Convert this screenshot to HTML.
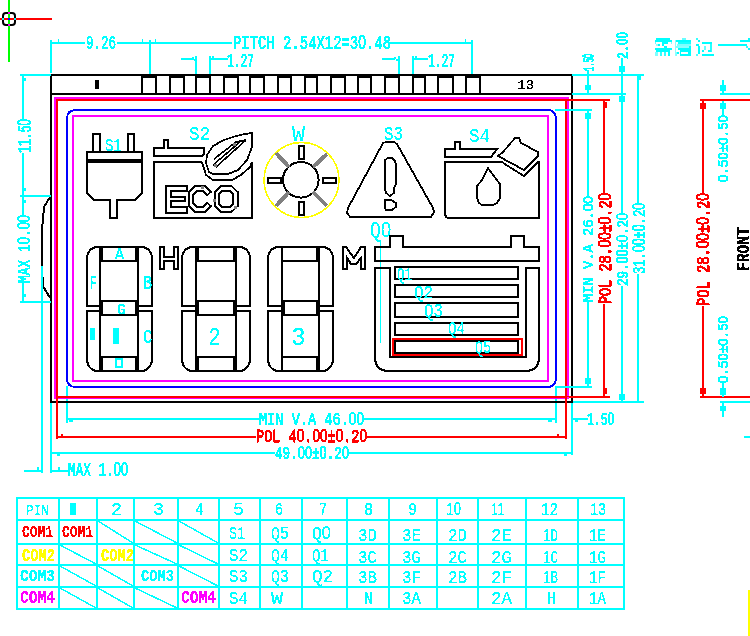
<!DOCTYPE html>
<html><head><meta charset="utf-8"><style>
html,body{margin:0;padding:0;background:#fff;width:750px;height:636px;overflow:hidden}
svg{display:block}
path,circle{shape-rendering:crispEdges}

</style></head><body>
<svg width="750" height="636" viewBox="0 0 750 636">
<defs><filter id="px" x="-800" y="-800" width="1600" height="1600" filterUnits="userSpaceOnUse"><feComponentTransfer><feFuncA type="discrete" tableValues="0 1"/></feComponentTransfer></filter></defs>
<rect width="750" height="636" fill="#fff"/>
<rect x="8" y="0" width="2" height="62" fill="#00ff00"/>
<rect x="0" y="18" width="52" height="2" fill="#ff0000"/>
<rect x="3" y="13" width="12" height="12" rx="3" fill="none" stroke="#000" stroke-width="2"/>
<rect x="8" y="12" width="2" height="2" fill="#ff00ff"/>
<rect x="8" y="24" width="2" height="2" fill="#ff00ff"/>
<rect x="2" y="18" width="2" height="2" fill="#00ffff"/>
<rect x="14" y="18" width="2" height="2" fill="#00ffff"/>
<rect x="8" y="18" width="2" height="2" fill="#0000ff"/>
<rect x="50" y="42" width="35" height="2" fill="#00ffff"/>
<rect x="117" y="42" width="33" height="2" fill="#00ffff"/>
<rect x="50" y="40" width="2" height="33" fill="#00ffff"/>
<rect x="149" y="40" width="2" height="35" fill="#00ffff"/>
<rect x="58" y="39" width="1" height="3" fill="#00ffff"/>
<rect x="142" y="39" width="1" height="3" fill="#00ffff"/>
<rect x="155" y="39" width="1" height="3" fill="#00ffff"/>
<text filter="url(#px)" x="86" y="49" font-family="Liberation Mono" font-weight="normal" font-size="19.74" fill="#00ffff" stroke="#00ffff" stroke-width="0.7" textLength="30" lengthAdjust="spacingAndGlyphs">9.26</text>
<rect x="150" y="42" width="82" height="2" fill="#00ffff"/>
<text filter="url(#px)" x="233" y="49" font-family="Liberation Mono" font-weight="normal" font-size="19.74" fill="#00ffff" stroke="#00ffff" stroke-width="0.7" textLength="158" lengthAdjust="spacingAndGlyphs">PITCH 2.54X12=3<tspan font-family="Liberation Sans">0</tspan>.48</text>
<rect x="390" y="42" width="82" height="2" fill="#00ffff"/>
<rect x="471" y="40" width="2" height="35" fill="#00ffff"/>
<rect x="465" y="39" width="1" height="3" fill="#00ffff"/>
<rect x="181" y="58" width="13" height="2" fill="#00ffff"/>
<rect x="192" y="57" width="2" height="2" fill="#00ffff"/>
<rect x="194" y="59" width="2" height="2" fill="#00ffff"/>
<rect x="195" y="56" width="2" height="19" fill="#00ffff"/>
<rect x="209" y="56" width="2" height="19" fill="#00ffff"/>
<rect x="211" y="58" width="17" height="2" fill="#00ffff"/>
<rect x="212" y="56" width="2" height="2" fill="#00ffff"/>
<rect x="214" y="58" width="2" height="2" fill="#00ffff"/>
<text filter="url(#px)" x="227" y="67" font-family="Liberation Mono" font-weight="normal" font-size="19.74" fill="#00ffff" stroke="#00ffff" stroke-width="0.7" textLength="27" lengthAdjust="spacingAndGlyphs">1.27</text>
<rect x="382" y="58" width="13" height="2" fill="#00ffff"/>
<rect x="394" y="57" width="2" height="2" fill="#00ffff"/>
<rect x="396" y="59" width="2" height="2" fill="#00ffff"/>
<rect x="398" y="56" width="2" height="19" fill="#00ffff"/>
<rect x="412" y="56" width="2" height="19" fill="#00ffff"/>
<rect x="414" y="58" width="14" height="2" fill="#00ffff"/>
<rect x="415" y="56" width="2" height="2" fill="#00ffff"/>
<rect x="417" y="58" width="2" height="2" fill="#00ffff"/>
<text filter="url(#px)" x="428" y="67" font-family="Liberation Mono" font-weight="normal" font-size="19.74" fill="#00ffff" stroke="#00ffff" stroke-width="0.7" textLength="27" lengthAdjust="spacingAndGlyphs">1.27</text>
<rect x="50" y="74" width="523" height="2" fill="#000000"/>
<rect x="50" y="74" width="2" height="329" fill="#000000"/>
<rect x="571" y="74" width="2" height="329" fill="#000000"/>
<rect x="50" y="401" width="523" height="2" fill="#000000"/>
<rect x="50" y="93" width="523" height="2" fill="#000000"/>
<rect x="141" y="74" width="2" height="21" fill="#000000"/>
<rect x="155" y="74" width="2" height="21" fill="#000000"/>
<rect x="169" y="74" width="2" height="21" fill="#000000"/>
<rect x="183" y="74" width="2" height="21" fill="#000000"/>
<rect x="195" y="74" width="2" height="21" fill="#000000"/>
<rect x="209" y="74" width="2" height="21" fill="#000000"/>
<rect x="223" y="74" width="2" height="21" fill="#000000"/>
<rect x="237" y="74" width="2" height="21" fill="#000000"/>
<rect x="249" y="74" width="2" height="21" fill="#000000"/>
<rect x="263" y="74" width="2" height="21" fill="#000000"/>
<rect x="277" y="74" width="2" height="21" fill="#000000"/>
<rect x="290" y="74" width="2" height="21" fill="#000000"/>
<rect x="304" y="74" width="2" height="21" fill="#000000"/>
<rect x="316" y="74" width="2" height="21" fill="#000000"/>
<rect x="330" y="74" width="2" height="21" fill="#000000"/>
<rect x="344" y="74" width="2" height="21" fill="#000000"/>
<rect x="357" y="74" width="2" height="21" fill="#000000"/>
<rect x="370" y="74" width="2" height="21" fill="#000000"/>
<rect x="384" y="74" width="2" height="21" fill="#000000"/>
<rect x="398" y="74" width="2" height="21" fill="#000000"/>
<rect x="412" y="74" width="2" height="21" fill="#000000"/>
<rect x="424" y="74" width="2" height="21" fill="#000000"/>
<rect x="437" y="74" width="2" height="21" fill="#000000"/>
<rect x="452" y="74" width="2" height="21" fill="#000000"/>
<rect x="465" y="74" width="2" height="21" fill="#000000"/>
<rect x="479" y="74" width="2" height="21" fill="#000000"/>
<rect x="142" y="76" width="13" height="2" fill="#000000"/>
<rect x="170" y="76" width="13" height="2" fill="#000000"/>
<rect x="196" y="76" width="13" height="2" fill="#000000"/>
<rect x="224" y="76" width="13" height="2" fill="#000000"/>
<rect x="250" y="76" width="13" height="2" fill="#000000"/>
<rect x="278" y="76" width="12" height="2" fill="#000000"/>
<rect x="305" y="76" width="11" height="2" fill="#000000"/>
<rect x="331" y="76" width="13" height="2" fill="#000000"/>
<rect x="358" y="76" width="12" height="2" fill="#000000"/>
<rect x="385" y="76" width="13" height="2" fill="#000000"/>
<rect x="413" y="76" width="11" height="2" fill="#000000"/>
<rect x="438" y="76" width="14" height="2" fill="#000000"/>
<rect x="466" y="76" width="13" height="2" fill="#000000"/>
<rect x="95" y="80" width="4" height="9" fill="#000000"/>
<text filter="url(#px)" x="517" y="89" font-family="Liberation Mono" font-weight="normal" font-size="13.66" fill="#000000" stroke="#000000" stroke-width="0.3" textLength="17" lengthAdjust="spacingAndGlyphs">13</text>
<rect x="54" y="97" width="515" height="2" fill="#ff00ff"/>
<rect x="54" y="397" width="515" height="2" fill="#ff00ff"/>
<rect x="54" y="97" width="2" height="302" fill="#ff00ff"/>
<rect x="567" y="97" width="2" height="302" fill="#ff00ff"/>
<rect x="56" y="99" width="511" height="2" fill="#ff0000"/>
<rect x="56" y="396" width="511" height="2" fill="#ff0000"/>
<rect x="56" y="99" width="2" height="299" fill="#ff0000"/>
<rect x="565" y="99" width="2" height="299" fill="#ff0000"/>
<path d="M76,110 H547 Q556,110 556,119 V377 Q556,387 547,387 H76 Q67,387 67,378 V119 Q67,110 76,110 Z" fill="none" stroke="#0000ff" stroke-width="2" transform="translate(0,0)"/>
<path d="M73,116 H548 V381 H73 Z" fill="none" stroke="#ff00ff" stroke-width="2" />
<rect x="572" y="74" width="72" height="2" fill="#00ffff"/>
<rect x="572" y="93" width="54" height="2" fill="#00ffff"/>
<rect x="555" y="109" width="37" height="2" fill="#00ffff"/>
<rect x="566" y="99" width="44" height="2" fill="#ff0000"/>
<rect x="587" y="70" width="2" height="25" fill="#00ffff"/>
<text filter="url(#px)" transform="translate(594,71) rotate(-90)" x="0" y="0" font-family="Liberation Mono" font-weight="bold" font-size="16.70" fill="#00ffff" stroke="#00ffff" stroke-width="0.4" textLength="17" lengthAdjust="spacingAndGlyphs">1.5<tspan font-family="Liberation Sans">0</tspan></text>
<rect x="585" y="85" width="6" height="5" fill="#00ffff"/>
<rect x="621" y="58" width="2" height="155" fill="#00ffff"/>
<text filter="url(#px)" transform="translate(628,59) rotate(-90)" x="0" y="0" font-family="Liberation Mono" font-weight="bold" font-size="16.70" fill="#00ffff" stroke="#00ffff" stroke-width="0.3" textLength="27" lengthAdjust="spacingAndGlyphs">2.<tspan font-family="Liberation Sans">00</tspan></text>
<rect x="619" y="66" width="6" height="6" fill="#00ffff"/>
<rect x="619" y="96" width="6" height="6" fill="#00ffff"/>
<rect x="637" y="75" width="2" height="128" fill="#00ffff"/>
<rect x="637" y="274" width="2" height="129" fill="#00ffff"/>
<rect x="639" y="76" width="2" height="4" fill="#00ffff"/>
<rect x="587" y="110" width="2" height="86" fill="#00ffff"/>
<rect x="587" y="302" width="2" height="86" fill="#00ffff"/>
<text filter="url(#px)" transform="translate(593,302) rotate(-90)" x="0" y="0" font-family="Liberation Mono" font-weight="normal" font-size="15.18" fill="#00ffff" stroke="#00ffff" stroke-width="0.7" textLength="106" lengthAdjust="spacingAndGlyphs">MIN V.A 26.<tspan font-family="Liberation Sans">00</tspan></text>
<rect x="585" y="113" width="6" height="6" fill="#00ffff"/>
<rect x="585" y="378" width="6" height="6" fill="#00ffff"/>
<rect x="603" y="100" width="2" height="93" fill="#ff0000"/>
<rect x="603" y="304" width="2" height="94" fill="#ff0000"/>
<text filter="url(#px)" transform="translate(611,304) rotate(-90)" x="0" y="0" font-family="Liberation Mono" font-weight="normal" font-size="18.22" fill="#ff0000" stroke="#ff0000" stroke-width="1.0" textLength="111" lengthAdjust="spacingAndGlyphs">POL 28.<tspan font-family="Liberation Sans">00</tspan>&#177;<tspan font-family="Liberation Sans">0</tspan>.2<tspan font-family="Liberation Sans">0</tspan></text>
<rect x="605" y="102" width="2" height="6" fill="#ff0000"/>
<rect x="605" y="388" width="2" height="6" fill="#ff0000"/>
<rect x="621" y="286" width="2" height="116" fill="#00ffff"/>
<text filter="url(#px)" transform="translate(628,286) rotate(-90)" x="0" y="0" font-family="Liberation Mono" font-weight="normal" font-size="16.70" fill="#00ffff" stroke="#00ffff" stroke-width="0.7" textLength="73" lengthAdjust="spacingAndGlyphs">29.<tspan font-family="Liberation Sans">00</tspan>&#177;<tspan font-family="Liberation Sans">0</tspan>.2<tspan font-family="Liberation Sans">0</tspan></text>
<text filter="url(#px)" transform="translate(645,274) rotate(-90)" x="0" y="0" font-family="Liberation Mono" font-weight="normal" font-size="18.22" fill="#00ffff" stroke="#00ffff" stroke-width="0.7" textLength="71" lengthAdjust="spacingAndGlyphs">31.<tspan font-family="Liberation Sans">00</tspan>&#177;<tspan font-family="Liberation Sans">0</tspan>.2<tspan font-family="Liberation Sans">0</tspan></text>
<rect x="619" y="394" width="6" height="6" fill="#00ffff"/>
<rect x="555" y="386" width="37" height="2" fill="#00ffff"/>
<rect x="566" y="396" width="44" height="2" fill="#ff0000"/>
<rect x="572" y="401" width="72" height="2" fill="#00ffff"/>
<rect x="20" y="74" width="31" height="2" fill="#00ffff"/>
<rect x="22" y="74" width="2" height="45" fill="#00ffff"/>
<rect x="22" y="153" width="2" height="62" fill="#00ffff"/>
<rect x="22" y="283" width="2" height="20" fill="#00ffff"/>
<rect x="20" y="195" width="31" height="2" fill="#00ffff"/>
<rect x="20" y="301" width="31" height="2" fill="#00ffff"/>
<rect x="24" y="78" width="2" height="3" fill="#00ffff"/>
<rect x="24" y="188" width="2" height="3" fill="#00ffff"/>
<rect x="24" y="200" width="2" height="3" fill="#00ffff"/>
<rect x="24" y="294" width="2" height="3" fill="#00ffff"/>
<text filter="url(#px)" transform="translate(31,153) rotate(-90)" x="0" y="0" font-family="Liberation Mono" font-weight="normal" font-size="19.74" fill="#00ffff" stroke="#00ffff" stroke-width="0.7" textLength="34" lengthAdjust="spacingAndGlyphs">11.5<tspan font-family="Liberation Sans">0</tspan></text>
<text filter="url(#px)" transform="translate(30,283) rotate(-90)" x="0" y="0" font-family="Liberation Mono" font-weight="normal" font-size="18.22" fill="#00ffff" stroke="#00ffff" stroke-width="0.7" textLength="68" lengthAdjust="spacingAndGlyphs">MAX 1<tspan font-family="Liberation Sans">0</tspan>.<tspan font-family="Liberation Sans">00</tspan></text>
<path d="M50,197 L44,207 L42,230 L42,266 L43,286 L50,298" fill="none" stroke="#000000" stroke-width="2" />
<rect x="41" y="266" width="2" height="207" fill="#00ffff"/>
<rect x="66" y="386" width="2" height="37" fill="#00ffff"/>
<rect x="66" y="418" width="193" height="2" fill="#00ffff"/>
<rect x="364" y="418" width="192" height="2" fill="#00ffff"/>
<rect x="555" y="386" width="2" height="37" fill="#00ffff"/>
<text filter="url(#px)" x="259" y="425" font-family="Liberation Mono" font-weight="normal" font-size="18.22" fill="#00ffff" stroke="#00ffff" stroke-width="0.7" textLength="105" lengthAdjust="spacingAndGlyphs">MIN V.A 46.<tspan font-family="Liberation Sans">00</tspan></text>
<rect x="56" y="397" width="2" height="42" fill="#ff0000"/>
<rect x="56" y="436" width="200" height="2" fill="#ff0000"/>
<rect x="367" y="436" width="200" height="2" fill="#ff0000"/>
<rect x="565" y="397" width="2" height="42" fill="#ff0000"/>
<text filter="url(#px)" x="256" y="442" font-family="Liberation Mono" font-weight="normal" font-size="18.22" fill="#ff0000" stroke="#ff0000" stroke-width="0.9" textLength="111" lengthAdjust="spacingAndGlyphs">POL 4<tspan font-family="Liberation Sans">0</tspan>.<tspan font-family="Liberation Sans">00</tspan>&#177;<tspan font-family="Liberation Sans">0</tspan>.2<tspan font-family="Liberation Sans">0</tspan></text>
<rect x="50" y="403" width="2" height="70" fill="#00ffff"/>
<rect x="50" y="452" width="225" height="2" fill="#00ffff"/>
<rect x="349" y="452" width="224" height="2" fill="#00ffff"/>
<rect x="571" y="403" width="2" height="52" fill="#00ffff"/>
<text filter="url(#px)" x="275" y="459" font-family="Liberation Mono" font-weight="normal" font-size="18.22" fill="#00ffff" stroke="#00ffff" stroke-width="0.7" textLength="74" lengthAdjust="spacingAndGlyphs">49.<tspan font-family="Liberation Sans">00</tspan>&#177;<tspan font-family="Liberation Sans">0</tspan>.2<tspan font-family="Liberation Sans">0</tspan></text>
<rect x="24" y="470" width="18" height="2" fill="#00ffff"/>
<rect x="51" y="470" width="18" height="2" fill="#00ffff"/>
<text filter="url(#px)" x="68" y="476" font-family="Liberation Mono" font-weight="normal" font-size="19.74" fill="#00ffff" stroke="#00ffff" stroke-width="0.7" textLength="60" lengthAdjust="spacingAndGlyphs">MAX 1.<tspan font-family="Liberation Sans">00</tspan></text>
<rect x="573" y="418" width="15" height="2" fill="#00ffff"/>
<text filter="url(#px)" x="587" y="425" font-family="Liberation Mono" font-weight="normal" font-size="18.22" fill="#00ffff" stroke="#00ffff" stroke-width="0.7" textLength="27" lengthAdjust="spacingAndGlyphs">1.5<tspan font-family="Liberation Sans">0</tspan></text>
<rect x="69" y="420" width="4" height="2" fill="#00ffff"/>
<rect x="548" y="420" width="4" height="2" fill="#00ffff"/>
<rect x="61" y="434" width="2" height="2" fill="#ff0000"/>
<rect x="557" y="434" width="2" height="2" fill="#ff0000"/>
<rect x="57" y="454" width="3" height="2" fill="#00ffff"/>
<rect x="564" y="454" width="3" height="2" fill="#00ffff"/>
<rect x="37" y="467" width="2" height="3" fill="#00ffff"/>
<rect x="58" y="467" width="2" height="3" fill="#00ffff"/>
<rect x="575" y="420" width="3" height="2" fill="#00ffff"/>
<rect x="54" y="397" width="515" height="2" fill="#ff00ff"/>
<rect x="56" y="396" width="511" height="2" fill="#ff0000"/>
<rect x="50" y="401" width="523" height="2" fill="#000000"/>
<rect x="56" y="397" width="2" height="42" fill="#ff0000"/>
<rect x="565" y="397" width="2" height="42" fill="#ff0000"/>
<rect x="720" y="93" width="31" height="2" fill="#00ffff"/>
<rect x="700" y="99" width="51" height="2" fill="#ff0000"/>
<rect x="702" y="306" width="2" height="92" fill="#ff0000"/>
<rect x="700" y="396" width="51" height="2" fill="#ff0000"/>
<rect x="720" y="401" width="31" height="2" fill="#00ffff"/>
<rect x="722" y="80" width="2" height="14" fill="#00ffff"/>
<rect x="722" y="101" width="2" height="14" fill="#00ffff"/>
<rect x="722" y="382" width="2" height="15" fill="#00ffff"/>
<rect x="722" y="402" width="2" height="15" fill="#00ffff"/>
<rect x="720" y="85" width="6" height="6" fill="#00ffff"/>
<rect x="720" y="103" width="6" height="6" fill="#00ffff"/>
<rect x="720" y="388" width="6" height="7" fill="#00ffff"/>
<rect x="720" y="406" width="6" height="5" fill="#00ffff"/>
<rect x="700" y="103" width="6" height="6" fill="#ff0000"/>
<rect x="700" y="388" width="6" height="6" fill="#ff0000"/>
<text filter="url(#px)" transform="translate(728,182) rotate(-90)" x="0" y="0" font-family="Liberation Mono" font-weight="normal" font-size="15.18" fill="#00ffff" stroke="#00ffff" stroke-width="0.7" textLength="67" lengthAdjust="spacingAndGlyphs"><tspan font-family="Liberation Sans">0</tspan>.5<tspan font-family="Liberation Sans">0</tspan>&#177;<tspan font-family="Liberation Sans">0</tspan>.5<tspan font-family="Liberation Sans">0</tspan></text>
<rect x="702" y="100" width="2" height="93" fill="#ff0000"/>
<text filter="url(#px)" transform="translate(709,306) rotate(-90)" x="0" y="0" font-family="Liberation Mono" font-weight="normal" font-size="18.22" fill="#ff0000" stroke="#ff0000" stroke-width="1.0" textLength="113" lengthAdjust="spacingAndGlyphs">POL 28.<tspan font-family="Liberation Sans">00</tspan>&#177;<tspan font-family="Liberation Sans">0</tspan>.2<tspan font-family="Liberation Sans">0</tspan></text>
<text filter="url(#px)" transform="translate(749,271) rotate(-90)" x="0" y="0" font-family="Liberation Mono" font-weight="bold" font-size="18.22" fill="#000000" stroke="#000000" stroke-width="0.3" textLength="44" lengthAdjust="spacingAndGlyphs">FRONT</text>
<text filter="url(#px)" transform="translate(728,383) rotate(-90)" x="0" y="0" font-family="Liberation Mono" font-weight="normal" font-size="15.18" fill="#00ffff" stroke="#00ffff" stroke-width="0.7" textLength="67" lengthAdjust="spacingAndGlyphs"><tspan font-family="Liberation Sans">0</tspan>.5<tspan font-family="Liberation Sans">0</tspan>&#177;<tspan font-family="Liberation Sans">0</tspan>.5<tspan font-family="Liberation Sans">0</tspan></text>
<rect x="744" y="436" width="7" height="2" fill="#00ffff"/>
<rect x="656" y="38" width="14" height="2" fill="#00ffff" fill-opacity="1.0"/>
<rect x="655" y="40" width="17" height="2" fill="#00ffff" fill-opacity="1.0"/>
<rect x="655" y="42" width="1" height="2" fill="#00ffff" fill-opacity="0.6"/>
<rect x="662" y="42" width="6" height="2" fill="#00ffff" fill-opacity="1.0"/>
<rect x="671" y="42" width="1" height="2" fill="#00ffff" fill-opacity="0.5"/>
<rect x="658" y="44" width="2" height="2" fill="#00ffff" fill-opacity="1.0"/>
<rect x="656" y="44" width="2" height="2" fill="#00ffff" fill-opacity="0.4"/>
<rect x="662" y="44" width="2" height="2" fill="#00ffff" fill-opacity="1.0"/>
<rect x="664" y="46" width="3" height="2" fill="#00ffff" fill-opacity="1.0"/>
<rect x="666" y="46" width="1" height="2" fill="#00ffff" fill-opacity="0.5"/>
<rect x="655" y="48" width="17" height="2" fill="#00ffff" fill-opacity="1.0"/>
<rect x="656" y="50" width="14" height="2" fill="#00ffff" fill-opacity="1.0"/>
<rect x="655" y="52" width="3" height="4" fill="#00ffff" fill-opacity="0.5"/>
<rect x="660" y="52" width="2" height="4" fill="#00ffff" fill-opacity="0.8"/>
<rect x="664" y="52" width="2" height="4" fill="#00ffff" fill-opacity="0.8"/>
<rect x="668" y="52" width="2" height="4" fill="#00ffff" fill-opacity="1.0"/>
<rect x="682" y="38" width="4" height="2" fill="#00ffff" fill-opacity="0.6"/>
<rect x="675" y="40" width="1" height="16" fill="#00ffff" fill-opacity="0.45"/>
<rect x="676" y="40" width="15" height="2" fill="#00ffff" fill-opacity="1.0"/>
<rect x="678" y="42" width="13" height="2" fill="#00ffff" fill-opacity="0.9"/>
<rect x="677" y="44" width="14" height="2" fill="#00ffff" fill-opacity="0.5"/>
<rect x="676" y="46" width="2" height="2" fill="#00ffff" fill-opacity="0.5"/>
<rect x="678" y="46" width="11" height="2" fill="#00ffff" fill-opacity="0.45"/>
<rect x="689" y="46" width="2" height="2" fill="#00ffff" fill-opacity="1.0"/>
<rect x="678" y="48" width="13" height="2" fill="#00ffff" fill-opacity="1.0"/>
<rect x="680" y="50" width="11" height="2" fill="#00ffff" fill-opacity="1.0"/>
<rect x="677" y="52" width="2" height="2" fill="#00ffff" fill-opacity="1.0"/>
<rect x="680" y="52" width="1" height="2" fill="#00ffff" fill-opacity="1.0"/>
<rect x="688" y="52" width="3" height="2" fill="#00ffff" fill-opacity="1.0"/>
<rect x="676" y="52" width="1" height="4" fill="#00ffff" fill-opacity="0.5"/>
<rect x="680" y="54" width="11" height="2" fill="#00ffff" fill-opacity="1.0"/>
<rect x="696" y="38" width="2" height="2" fill="#00ffff" fill-opacity="0.8"/>
<rect x="698" y="40" width="2" height="2" fill="#00ffff" fill-opacity="1.0"/>
<rect x="702" y="42" width="10" height="2" fill="#00ffff" fill-opacity="1.0"/>
<rect x="710" y="44" width="2" height="8" fill="#00ffff" fill-opacity="0.85"/>
<rect x="708" y="50" width="3" height="2" fill="#00ffff" fill-opacity="1.0"/>
<rect x="696" y="44" width="3" height="2" fill="#00ffff" fill-opacity="1.0"/>
<rect x="698" y="46" width="2" height="8" fill="#00ffff" fill-opacity="1.0"/>
<rect x="704" y="46" width="2" height="4" fill="#00ffff" fill-opacity="0.6"/>
<rect x="702" y="50" width="2" height="2" fill="#00ffff" fill-opacity="1.0"/>
<rect x="702" y="54" width="12" height="2" fill="#00ffff" fill-opacity="1.0"/>
<rect x="696" y="54" width="2" height="2" fill="#00ffff" fill-opacity="0.7"/>
<rect x="718" y="44" width="29" height="2" fill="#00ffff"/>
<rect x="740" y="40" width="10" height="2" fill="#00ffff" fill-opacity="1.0"/>
<rect x="748" y="38" width="2" height="2" fill="#00ffff" fill-opacity="1.0"/>
<rect x="746" y="46" width="2" height="2" fill="#00ffff" fill-opacity="0.8"/>
<rect x="748" y="48" width="2" height="2" fill="#00ffff" fill-opacity="1.0"/>
<rect x="748" y="590" width="2" height="47" fill="#ffff00"/>
<path d="M93,152 V134 H100 V152 M128,152 V134 H134 V152" fill="none" stroke="#000000" stroke-width="2" />
<path d="M87,152 H142 V193 L135,200 H117 V218 H110 V200 H94 L87,193 Z" fill="none" stroke="#000000" stroke-width="2" />
<rect x="86" y="159" width="56" height="4" fill="#000000"/>
<text filter="url(#px)" x="105" y="151" font-family="Liberation Mono" font-weight="normal" font-size="18.22" fill="#00ffff" stroke="#00ffff" stroke-width="0.2" textLength="17" lengthAdjust="spacingAndGlyphs">S1</text>
<path d="M154,156 V148 H164 V140 H168 V148 H204 V154 L202,156 Z" fill="none" stroke="#000000" stroke-width="2" />
<path d="M202,162 H154 V218 H252 V162" fill="none" stroke="#000000" stroke-width="2" />
<path d="M202,162 L206,175 L213,180 H232 L241,175 L250,167 L252,162" fill="none" stroke="#000000" stroke-width="1.8" />
<path d="M252,133 V147 L247,160 L238,170 L228,174 H213 L209,172 L206,163 L207,155 L213,146 L224,140 L236,136 L245,134 Z" fill="none" stroke="#000000" stroke-width="1.8" />
<path d="M213,165 L240,142 M216,167 L246,140 M214,159 L236,142 L246,140" fill="none" stroke="#000000" stroke-width="1.6" />
<rect x="214" y="164" width="3" height="3" fill="#808080"/>
<rect x="233" y="143" width="3" height="3" fill="#808080"/>
<path d="M166,186 H187 V191 H171 V197 H185 V201 H171 V207 H187 V213 H166 Z" fill="none" stroke="#000000" stroke-width="1.6" />
<path d="M195,186 H205 L211,192 L207,195 L203,191 H197 L193,195 V203 L197,207 H203 L207,203 L211,206 L205,212 H195 L189,206 V192 Z" fill="none" stroke="#000000" stroke-width="1.6" />
<path d="M221,186 H231 L238,192 V206 L231,212 H221 L215,206 V192 Z M222,191 H230 L233,194 V204 L230,207 H222 L219,204 V194 Z" fill="none" stroke="#000000" stroke-width="1.6" />
<rect x="201" y="186" width="3" height="3" fill="#808080"/>
<rect x="213" y="199" width="3" height="3" fill="#808080"/>
<rect x="234" y="206" width="3" height="3" fill="#808080"/>
<text filter="url(#px)" x="189" y="140" font-family="Liberation Mono" font-weight="normal" font-size="19.74" fill="#00ffff" stroke="#00ffff" stroke-width="0.2" textLength="21" lengthAdjust="spacingAndGlyphs">S2</text>
<circle cx="301.5" cy="180" r="37.5" fill="none" stroke="#ffff00" stroke-width="1.6"/>
<circle cx="300.8" cy="179.8" r="17.8" fill="none" stroke="#000" stroke-width="2"/>
<rect x="298" y="145" width="7" height="2" fill="#000000"/>
<rect x="298" y="158" width="7" height="2" fill="#000000"/>
<rect x="298" y="145" width="2" height="15" fill="#000000"/>
<rect x="303" y="145" width="2" height="15" fill="#000000"/>
<rect x="298" y="201" width="7" height="2" fill="#000000"/>
<rect x="298" y="214" width="7" height="2" fill="#000000"/>
<rect x="298" y="201" width="2" height="15" fill="#000000"/>
<rect x="303" y="201" width="2" height="15" fill="#000000"/>
<rect x="267" y="177" width="15" height="2" fill="#000000"/>
<rect x="267" y="182" width="15" height="2" fill="#000000"/>
<rect x="267" y="177" width="2" height="7" fill="#000000"/>
<rect x="280" y="177" width="2" height="7" fill="#000000"/>
<rect x="322" y="177" width="15" height="2" fill="#000000"/>
<rect x="322" y="182" width="15" height="2" fill="#000000"/>
<rect x="322" y="177" width="2" height="7" fill="#000000"/>
<rect x="335" y="177" width="2" height="7" fill="#000000"/>
<path d="M276,153 L289,167 M276,206 L289,192 M327,154 L313,167 M327,206 L313,192" fill="none" stroke="#808080" stroke-width="4" />
<text filter="url(#px)" x="292" y="141" font-family="Liberation Mono" font-weight="normal" font-size="21.25" fill="#00ffff" stroke="#00ffff" stroke-width="0.1" textLength="13" lengthAdjust="spacingAndGlyphs">W</text>
<path d="M383,143 L386,142 H394 L397,144 L433,208 L434,212 L431,217 H350 L347,213 L348,208 Z" fill="none" stroke="#000000" stroke-width="1.8" />
<path d="M385,160 L388,158 H392 L395,161 L396,165 V184 L394,188 V193 L390,196 L386,193 L385,189 Z" fill="none" stroke="#000000" stroke-width="1.8" />
<path d="M385,200 H391 L396,203 V207 L392,210 H386 L385,208 Z" fill="none" stroke="#000000" stroke-width="1.8" />
<text filter="url(#px)" x="384" y="140" font-family="Liberation Mono" font-weight="normal" font-size="19.74" fill="#00ffff" stroke="#00ffff" stroke-width="0.2" textLength="19" lengthAdjust="spacingAndGlyphs">S3</text>
<path d="M445,157 V149 H455 V142 H460 V149 H497 L491,157 Z" fill="none" stroke="#000000" stroke-width="2" />
<path d="M503,162 H445 V213 Q445,218 449,218 H539 V161" fill="none" stroke="#000000" stroke-width="2" />
<path d="M498,156 L503,152 L515,138 L519,138 L521,143 L538,152 L538,156 L524,170 Z" fill="none" stroke="#000000" stroke-width="1.8" />
<path d="M503,163 L524,176 L538,162" fill="none" stroke="#000000" stroke-width="1.8" />
<path d="M488,168 L482,180 L477,186 V198 L479,203 L482,205 H493 L497,203 L500,198 V184 Z" fill="none" stroke="#000000" stroke-width="1.8" />
<text filter="url(#px)" x="469" y="142" font-family="Liberation Mono" font-weight="normal" font-size="19.74" fill="#00ffff" stroke="#00ffff" stroke-width="0.2" textLength="21" lengthAdjust="spacingAndGlyphs">S4</text>
<path d="M97,247 H142" fill="none" stroke="#000000" stroke-width="2" />
<path d="M97,247 A10,11 0 0 0 87,258 V306 H100" fill="none" stroke="#000000" stroke-width="2" />
<path d="M142,247 A10,11 0 0 1 152,258 V306 H138" fill="none" stroke="#000000" stroke-width="2" />
<path d="M100,311 H87 V359 A10,12 0 0 0 97,371" fill="none" stroke="#000000" stroke-width="2" />
<path d="M138,311 H152 V359 A10,12 0 0 1 142,371" fill="none" stroke="#000000" stroke-width="2" />
<path d="M97,371 H142" fill="none" stroke="#000000" stroke-width="2" />
<rect x="99" y="246" width="2" height="126" fill="#000000"/>
<rect x="137" y="246" width="2" height="126" fill="#000000"/>
<rect x="99" y="260" width="40" height="2" fill="#000000"/>
<rect x="99" y="246" width="4" height="15" fill="#000000"/>
<rect x="99" y="356" width="4" height="16" fill="#000000"/>
<rect x="99" y="300" width="4" height="16" fill="#000000"/>
<rect x="135" y="246" width="4" height="15" fill="#000000"/>
<rect x="135" y="356" width="4" height="16" fill="#000000"/>
<rect x="135" y="300" width="4" height="16" fill="#000000"/>
<rect x="101" y="300" width="36" height="2" fill="#000000"/>
<rect x="101" y="314" width="36" height="2" fill="#000000"/>
<rect x="101" y="300" width="2" height="16" fill="#000000"/>
<rect x="135" y="300" width="2" height="16" fill="#000000"/>
<rect x="99" y="356" width="40" height="2" fill="#000000"/>
<path d="M192,247 H240" fill="none" stroke="#000000" stroke-width="2" />
<path d="M192,247 A10,11 0 0 0 182,258 V306 H196" fill="none" stroke="#000000" stroke-width="2" />
<path d="M240,247 A10,11 0 0 1 250,258 V306 H236" fill="none" stroke="#000000" stroke-width="2" />
<path d="M196,311 H182 V359 A10,12 0 0 0 192,371" fill="none" stroke="#000000" stroke-width="2" />
<path d="M236,311 H250 V359 A10,12 0 0 1 240,371" fill="none" stroke="#000000" stroke-width="2" />
<path d="M192,371 H240" fill="none" stroke="#000000" stroke-width="2" />
<rect x="195" y="246" width="2" height="126" fill="#000000"/>
<rect x="235" y="246" width="2" height="126" fill="#000000"/>
<rect x="195" y="260" width="42" height="2" fill="#000000"/>
<rect x="195" y="246" width="4" height="15" fill="#000000"/>
<rect x="195" y="356" width="4" height="16" fill="#000000"/>
<rect x="195" y="300" width="4" height="16" fill="#000000"/>
<rect x="233" y="246" width="4" height="15" fill="#000000"/>
<rect x="233" y="356" width="4" height="16" fill="#000000"/>
<rect x="233" y="300" width="4" height="16" fill="#000000"/>
<rect x="197" y="300" width="38" height="2" fill="#000000"/>
<rect x="197" y="314" width="38" height="2" fill="#000000"/>
<rect x="197" y="300" width="2" height="16" fill="#000000"/>
<rect x="233" y="300" width="2" height="16" fill="#000000"/>
<rect x="195" y="356" width="42" height="2" fill="#000000"/>
<path d="M278,247 H323" fill="none" stroke="#000000" stroke-width="2" />
<path d="M278,247 A10,11 0 0 0 268,258 V306 H282" fill="none" stroke="#000000" stroke-width="2" />
<path d="M323,247 A10,11 0 0 1 333,258 V306 H319" fill="none" stroke="#000000" stroke-width="2" />
<path d="M282,311 H268 V359 A10,12 0 0 0 278,371" fill="none" stroke="#000000" stroke-width="2" />
<path d="M319,311 H333 V359 A10,12 0 0 1 323,371" fill="none" stroke="#000000" stroke-width="2" />
<path d="M278,371 H323" fill="none" stroke="#000000" stroke-width="2" />
<rect x="281" y="246" width="2" height="126" fill="#000000"/>
<rect x="318" y="246" width="2" height="126" fill="#000000"/>
<rect x="281" y="260" width="39" height="2" fill="#000000"/>
<rect x="316" y="246" width="4" height="15" fill="#000000"/>
<rect x="316" y="356" width="4" height="16" fill="#000000"/>
<rect x="316" y="300" width="4" height="16" fill="#000000"/>
<rect x="283" y="300" width="35" height="2" fill="#000000"/>
<rect x="283" y="314" width="35" height="2" fill="#000000"/>
<rect x="283" y="300" width="2" height="16" fill="#000000"/>
<rect x="316" y="300" width="2" height="16" fill="#000000"/>
<rect x="281" y="356" width="39" height="2" fill="#000000"/>
<text filter="url(#px)" x="115" y="259" font-family="Liberation Mono" font-weight="normal" font-size="16.70" fill="#00ffff" stroke="#00ffff" stroke-width="0.4" textLength="9" lengthAdjust="spacingAndGlyphs">A</text>
<text filter="url(#px)" x="90" y="289" font-family="Liberation Mono" font-weight="normal" font-size="19.74" fill="#00ffff" stroke="#00ffff" stroke-width="0.4" textLength="7" lengthAdjust="spacingAndGlyphs">F</text>
<text filter="url(#px)" x="143" y="289" font-family="Liberation Mono" font-weight="normal" font-size="19.74" fill="#00ffff" stroke="#00ffff" stroke-width="0.4" textLength="9" lengthAdjust="spacingAndGlyphs">B</text>
<text filter="url(#px)" x="117" y="314" font-family="Liberation Mono" font-weight="normal" font-size="15.18" fill="#00ffff" stroke="#00ffff" stroke-width="0.4" textLength="9" lengthAdjust="spacingAndGlyphs">G</text>
<text filter="url(#px)" x="143" y="343" font-family="Liberation Mono" font-weight="normal" font-size="19.74" fill="#00ffff" stroke="#00ffff" stroke-width="0.4" textLength="9" lengthAdjust="spacingAndGlyphs">C</text>
<rect x="90" y="328" width="5" height="12" fill="#00ffff"/>
<rect x="113" y="328" width="6" height="16" fill="#00ffff"/>
<rect x="115" y="358" width="8" height="2" fill="#00ffff"/>
<rect x="115" y="366" width="8" height="2" fill="#00ffff"/>
<rect x="115" y="358" width="2" height="10" fill="#00ffff"/>
<rect x="121" y="358" width="2" height="10" fill="#00ffff"/>
<text filter="url(#px)" x="209" y="345" font-family="Liberation Sans" font-weight="normal" font-size="24.71" fill="#00ffff" stroke="#00ffff" stroke-width="0.2" textLength="11" lengthAdjust="spacingAndGlyphs">2</text>
<text filter="url(#px)" x="292" y="345" font-family="Liberation Sans" font-weight="normal" font-size="24.71" fill="#00ffff" stroke="#00ffff" stroke-width="0.2" textLength="13" lengthAdjust="spacingAndGlyphs">3</text>
<path d="M160,247 H164 V257 H174 V247 H178 V269 H174 V261 H164 V269 H160 Z" fill="none" stroke="#000000" stroke-width="2" />
<path d="M343,247 H346 L354,258 L361,247 H365 V269 H361 V258 L356,264 H351 L347,258 V269 H343 Z" fill="none" stroke="#000000" stroke-width="2" />
<text filter="url(#px)" x="370" y="237" font-family="Liberation Mono" font-weight="normal" font-size="21.25" fill="#00ffff" stroke="#00ffff" stroke-width="0.2" textLength="21" lengthAdjust="spacingAndGlyphs">Q<tspan font-family="Liberation Sans">0</tspan></text>
<rect x="380" y="240" width="1" height="103" fill="#00ffff"/>
<path d="M375,261 V247 H390 V236 H403 V247 H511 V236 H524 V247 H539 V261 Z" fill="none" stroke="#000000" stroke-width="2" />
<path d="M375,268 V357 Q375,371 389,371 H525 Q539,371 539,357 V268 H526 V357 H390 V268 Z" fill="none" stroke="#000000" stroke-width="2" />
<rect x="394" y="266" width="125" height="2" fill="#000000"/>
<rect x="394" y="278" width="125" height="2" fill="#000000"/>
<rect x="394" y="266" width="2" height="14" fill="#000000"/>
<rect x="517" y="266" width="2" height="14" fill="#000000"/>
<rect x="394" y="284" width="125" height="2" fill="#000000"/>
<rect x="394" y="296" width="125" height="2" fill="#000000"/>
<rect x="394" y="284" width="2" height="14" fill="#000000"/>
<rect x="517" y="284" width="2" height="14" fill="#000000"/>
<rect x="394" y="302" width="125" height="2" fill="#000000"/>
<rect x="394" y="316" width="125" height="2" fill="#000000"/>
<rect x="394" y="302" width="2" height="16" fill="#000000"/>
<rect x="517" y="302" width="2" height="16" fill="#000000"/>
<rect x="394" y="322" width="125" height="2" fill="#000000"/>
<rect x="394" y="334" width="125" height="2" fill="#000000"/>
<rect x="394" y="322" width="2" height="14" fill="#000000"/>
<rect x="517" y="322" width="2" height="14" fill="#000000"/>
<rect x="394" y="340" width="125" height="2" fill="#000000"/>
<rect x="394" y="352" width="125" height="2" fill="#000000"/>
<rect x="394" y="340" width="2" height="14" fill="#000000"/>
<rect x="517" y="340" width="2" height="14" fill="#000000"/>
<rect x="392" y="338" width="131" height="2" fill="#ff0000"/>
<rect x="392" y="354" width="131" height="2" fill="#ff0000"/>
<rect x="392" y="338" width="2" height="18" fill="#ff0000"/>
<rect x="521" y="338" width="2" height="18" fill="#ff0000"/>
<rect x="394" y="340" width="125" height="2" fill="#000000"/>
<rect x="394" y="352" width="125" height="2" fill="#000000"/>
<rect x="394" y="340" width="2" height="14" fill="#000000"/>
<rect x="517" y="340" width="2" height="14" fill="#000000"/>
<text filter="url(#px)" x="397" y="280" font-family="Liberation Mono" font-weight="normal" font-size="18.22" fill="#00ffff" stroke="#00ffff" stroke-width="0.2" textLength="15" lengthAdjust="spacingAndGlyphs">Q1</text>
<text filter="url(#px)" x="414" y="298" font-family="Liberation Mono" font-weight="normal" font-size="18.22" fill="#00ffff" stroke="#00ffff" stroke-width="0.2" textLength="19" lengthAdjust="spacingAndGlyphs">Q2</text>
<text filter="url(#px)" x="424" y="317" font-family="Liberation Mono" font-weight="normal" font-size="19.74" fill="#00ffff" stroke="#00ffff" stroke-width="0.2" textLength="19" lengthAdjust="spacingAndGlyphs">Q3</text>
<text filter="url(#px)" x="448" y="334" font-family="Liberation Mono" font-weight="normal" font-size="18.22" fill="#00ffff" stroke="#00ffff" stroke-width="0.2" textLength="17" lengthAdjust="spacingAndGlyphs">Q4</text>
<text filter="url(#px)" x="475" y="353" font-family="Liberation Mono" font-weight="normal" font-size="18.22" fill="#00ffff" stroke="#00ffff" stroke-width="0.2" textLength="16" lengthAdjust="spacingAndGlyphs">Q5</text>
<rect x="16" y="497" width="2" height="113" fill="#00ffff"/>
<rect x="58" y="497" width="2" height="113" fill="#00ffff"/>
<rect x="96" y="497" width="2" height="113" fill="#00ffff"/>
<rect x="133" y="497" width="2" height="113" fill="#00ffff"/>
<rect x="177" y="497" width="2" height="113" fill="#00ffff"/>
<rect x="218" y="497" width="2" height="113" fill="#00ffff"/>
<rect x="259" y="497" width="2" height="113" fill="#00ffff"/>
<rect x="301" y="497" width="2" height="113" fill="#00ffff"/>
<rect x="346" y="497" width="2" height="113" fill="#00ffff"/>
<rect x="388" y="497" width="2" height="113" fill="#00ffff"/>
<rect x="436" y="497" width="2" height="113" fill="#00ffff"/>
<rect x="477" y="497" width="2" height="113" fill="#00ffff"/>
<rect x="525" y="497" width="2" height="113" fill="#00ffff"/>
<rect x="577" y="497" width="2" height="113" fill="#00ffff"/>
<rect x="623" y="497" width="2" height="113" fill="#00ffff"/>
<rect x="16" y="497" width="609" height="2" fill="#00ffff"/>
<rect x="16" y="519" width="609" height="2" fill="#00ffff"/>
<rect x="16" y="543" width="609" height="2" fill="#00ffff"/>
<rect x="16" y="564" width="609" height="2" fill="#00ffff"/>
<rect x="16" y="586" width="609" height="2" fill="#00ffff"/>
<rect x="16" y="608" width="609" height="2" fill="#00ffff"/>
<text filter="url(#px)" x="26" y="515" font-family="Liberation Mono" font-weight="normal" font-size="15.18" fill="#00ffff" stroke="#00ffff" stroke-width="0.2" textLength="23" lengthAdjust="spacingAndGlyphs">PIN</text>
<rect x="70" y="503" width="6" height="12" fill="#00ffff"/>
<text filter="url(#px)" x="111" y="515" font-family="Liberation Mono" font-weight="normal" font-size="18.22" fill="#00ffff" stroke="#00ffff" stroke-width="0.2" textLength="11" lengthAdjust="spacingAndGlyphs">2</text>
<text filter="url(#px)" x="153" y="515" font-family="Liberation Mono" font-weight="normal" font-size="18.22" fill="#00ffff" stroke="#00ffff" stroke-width="0.2" textLength="11" lengthAdjust="spacingAndGlyphs">3</text>
<text filter="url(#px)" x="195" y="515" font-family="Liberation Mono" font-weight="normal" font-size="18.22" fill="#00ffff" stroke="#00ffff" stroke-width="0.2" textLength="9" lengthAdjust="spacingAndGlyphs">4</text>
<text filter="url(#px)" x="233" y="515" font-family="Liberation Mono" font-weight="normal" font-size="18.22" fill="#00ffff" stroke="#00ffff" stroke-width="0.2" textLength="11" lengthAdjust="spacingAndGlyphs">5</text>
<text filter="url(#px)" x="275" y="515" font-family="Liberation Mono" font-weight="normal" font-size="18.22" fill="#00ffff" stroke="#00ffff" stroke-width="0.2" textLength="8" lengthAdjust="spacingAndGlyphs">6</text>
<text filter="url(#px)" x="319" y="515" font-family="Liberation Mono" font-weight="normal" font-size="18.22" fill="#00ffff" stroke="#00ffff" stroke-width="0.2" textLength="8" lengthAdjust="spacingAndGlyphs">7</text>
<text filter="url(#px)" x="364" y="515" font-family="Liberation Mono" font-weight="normal" font-size="18.22" fill="#00ffff" stroke="#00ffff" stroke-width="0.2" textLength="9" lengthAdjust="spacingAndGlyphs">8</text>
<text filter="url(#px)" x="408" y="515" font-family="Liberation Mono" font-weight="normal" font-size="18.22" fill="#00ffff" stroke="#00ffff" stroke-width="0.2" textLength="9" lengthAdjust="spacingAndGlyphs">9</text>
<text filter="url(#px)" x="446" y="515" font-family="Liberation Mono" font-weight="normal" font-size="18.22" fill="#00ffff" stroke="#00ffff" stroke-width="0.2" textLength="15" lengthAdjust="spacingAndGlyphs">1<tspan font-family="Liberation Sans">0</tspan></text>
<text filter="url(#px)" x="491" y="515" font-family="Liberation Mono" font-weight="normal" font-size="18.22" fill="#00ffff" stroke="#00ffff" stroke-width="0.2" textLength="13" lengthAdjust="spacingAndGlyphs">11</text>
<text filter="url(#px)" x="541" y="515" font-family="Liberation Mono" font-weight="normal" font-size="18.22" fill="#00ffff" stroke="#00ffff" stroke-width="0.2" textLength="17" lengthAdjust="spacingAndGlyphs">12</text>
<text filter="url(#px)" x="590" y="515" font-family="Liberation Mono" font-weight="normal" font-size="18.22" fill="#00ffff" stroke="#00ffff" stroke-width="0.2" textLength="16" lengthAdjust="spacingAndGlyphs">13</text>
<text filter="url(#px)" x="22" y="537" font-family="Liberation Mono" font-weight="bold" font-size="16.70" fill="#ff0000" stroke="#ff0000" stroke-width="0.2" textLength="31" lengthAdjust="spacingAndGlyphs">COM1</text>
<text filter="url(#px)" x="62" y="537" font-family="Liberation Mono" font-weight="bold" font-size="16.70" fill="#ff0000" stroke="#ff0000" stroke-width="0.2" textLength="31" lengthAdjust="spacingAndGlyphs">COM1</text>
<text filter="url(#px)" x="229" y="539" font-family="Liberation Mono" font-weight="normal" font-size="18.22" fill="#00ffff" stroke="#00ffff" stroke-width="0.2" textLength="16" lengthAdjust="spacingAndGlyphs">S1</text>
<text filter="url(#px)" x="271" y="539" font-family="Liberation Mono" font-weight="normal" font-size="18.22" fill="#00ffff" stroke="#00ffff" stroke-width="0.2" textLength="18" lengthAdjust="spacingAndGlyphs">Q5</text>
<text filter="url(#px)" x="312" y="539" font-family="Liberation Mono" font-weight="normal" font-size="18.22" fill="#00ffff" stroke="#00ffff" stroke-width="0.2" textLength="19" lengthAdjust="spacingAndGlyphs">Q<tspan font-family="Liberation Sans">0</tspan></text>
<text filter="url(#px)" x="358" y="541" font-family="Liberation Mono" font-weight="normal" font-size="18.22" fill="#00ffff" stroke="#00ffff" stroke-width="0.2" textLength="19" lengthAdjust="spacingAndGlyphs">3D</text>
<text filter="url(#px)" x="402" y="541" font-family="Liberation Mono" font-weight="normal" font-size="18.22" fill="#00ffff" stroke="#00ffff" stroke-width="0.2" textLength="19" lengthAdjust="spacingAndGlyphs">3E</text>
<text filter="url(#px)" x="448" y="541" font-family="Liberation Mono" font-weight="normal" font-size="18.22" fill="#00ffff" stroke="#00ffff" stroke-width="0.2" textLength="19" lengthAdjust="spacingAndGlyphs">2D</text>
<text filter="url(#px)" x="491" y="541" font-family="Liberation Mono" font-weight="normal" font-size="18.22" fill="#00ffff" stroke="#00ffff" stroke-width="0.2" textLength="21" lengthAdjust="spacingAndGlyphs">2E</text>
<text filter="url(#px)" x="543" y="541" font-family="Liberation Mono" font-weight="normal" font-size="18.22" fill="#00ffff" stroke="#00ffff" stroke-width="0.2" textLength="15" lengthAdjust="spacingAndGlyphs">1D</text>
<text filter="url(#px)" x="589" y="541" font-family="Liberation Mono" font-weight="normal" font-size="18.22" fill="#00ffff" stroke="#00ffff" stroke-width="0.2" textLength="17" lengthAdjust="spacingAndGlyphs">1E</text>
<text filter="url(#px)" x="22" y="561" font-family="Liberation Mono" font-weight="bold" font-size="18.22" fill="#ffff00" stroke="#ffff00" stroke-width="0.2" textLength="33" lengthAdjust="spacingAndGlyphs">COM2</text>
<text filter="url(#px)" x="101" y="561" font-family="Liberation Mono" font-weight="bold" font-size="18.22" fill="#ffff00" stroke="#ffff00" stroke-width="0.2" textLength="33" lengthAdjust="spacingAndGlyphs">COM2</text>
<text filter="url(#px)" x="229" y="561" font-family="Liberation Mono" font-weight="normal" font-size="18.22" fill="#00ffff" stroke="#00ffff" stroke-width="0.2" textLength="19" lengthAdjust="spacingAndGlyphs">S2</text>
<text filter="url(#px)" x="271" y="561" font-family="Liberation Mono" font-weight="normal" font-size="18.22" fill="#00ffff" stroke="#00ffff" stroke-width="0.2" textLength="18" lengthAdjust="spacingAndGlyphs">Q4</text>
<text filter="url(#px)" x="312" y="561" font-family="Liberation Mono" font-weight="normal" font-size="18.22" fill="#00ffff" stroke="#00ffff" stroke-width="0.2" textLength="17" lengthAdjust="spacingAndGlyphs">Q1</text>
<text filter="url(#px)" x="358" y="563" font-family="Liberation Mono" font-weight="normal" font-size="18.22" fill="#00ffff" stroke="#00ffff" stroke-width="0.2" textLength="19" lengthAdjust="spacingAndGlyphs">3C</text>
<text filter="url(#px)" x="402" y="563" font-family="Liberation Mono" font-weight="normal" font-size="18.22" fill="#00ffff" stroke="#00ffff" stroke-width="0.2" textLength="19" lengthAdjust="spacingAndGlyphs">3G</text>
<text filter="url(#px)" x="448" y="563" font-family="Liberation Mono" font-weight="normal" font-size="18.22" fill="#00ffff" stroke="#00ffff" stroke-width="0.2" textLength="19" lengthAdjust="spacingAndGlyphs">2C</text>
<text filter="url(#px)" x="491" y="563" font-family="Liberation Mono" font-weight="normal" font-size="18.22" fill="#00ffff" stroke="#00ffff" stroke-width="0.2" textLength="21" lengthAdjust="spacingAndGlyphs">2G</text>
<text filter="url(#px)" x="543" y="563" font-family="Liberation Mono" font-weight="normal" font-size="18.22" fill="#00ffff" stroke="#00ffff" stroke-width="0.2" textLength="15" lengthAdjust="spacingAndGlyphs">1C</text>
<text filter="url(#px)" x="589" y="563" font-family="Liberation Mono" font-weight="normal" font-size="18.22" fill="#00ffff" stroke="#00ffff" stroke-width="0.2" textLength="17" lengthAdjust="spacingAndGlyphs">1G</text>
<text filter="url(#px)" x="20" y="581" font-family="Liberation Mono" font-weight="bold" font-size="16.70" fill="#00ffff" stroke="#00ffff" stroke-width="0.2" textLength="35" lengthAdjust="spacingAndGlyphs">COM3</text>
<text filter="url(#px)" x="141" y="581" font-family="Liberation Mono" font-weight="bold" font-size="16.70" fill="#00ffff" stroke="#00ffff" stroke-width="0.2" textLength="33" lengthAdjust="spacingAndGlyphs">COM3</text>
<text filter="url(#px)" x="229" y="582" font-family="Liberation Mono" font-weight="normal" font-size="18.22" fill="#00ffff" stroke="#00ffff" stroke-width="0.2" textLength="19" lengthAdjust="spacingAndGlyphs">S3</text>
<text filter="url(#px)" x="271" y="582" font-family="Liberation Mono" font-weight="normal" font-size="18.22" fill="#00ffff" stroke="#00ffff" stroke-width="0.2" textLength="18" lengthAdjust="spacingAndGlyphs">Q3</text>
<text filter="url(#px)" x="312" y="582" font-family="Liberation Mono" font-weight="normal" font-size="18.22" fill="#00ffff" stroke="#00ffff" stroke-width="0.2" textLength="21" lengthAdjust="spacingAndGlyphs">Q2</text>
<text filter="url(#px)" x="358" y="583" font-family="Liberation Mono" font-weight="normal" font-size="18.22" fill="#00ffff" stroke="#00ffff" stroke-width="0.2" textLength="19" lengthAdjust="spacingAndGlyphs">3B</text>
<text filter="url(#px)" x="402" y="583" font-family="Liberation Mono" font-weight="normal" font-size="18.22" fill="#00ffff" stroke="#00ffff" stroke-width="0.2" textLength="19" lengthAdjust="spacingAndGlyphs">3F</text>
<text filter="url(#px)" x="448" y="583" font-family="Liberation Mono" font-weight="normal" font-size="18.22" fill="#00ffff" stroke="#00ffff" stroke-width="0.2" textLength="19" lengthAdjust="spacingAndGlyphs">2B</text>
<text filter="url(#px)" x="491" y="583" font-family="Liberation Mono" font-weight="normal" font-size="18.22" fill="#00ffff" stroke="#00ffff" stroke-width="0.2" textLength="21" lengthAdjust="spacingAndGlyphs">2F</text>
<text filter="url(#px)" x="543" y="583" font-family="Liberation Mono" font-weight="normal" font-size="18.22" fill="#00ffff" stroke="#00ffff" stroke-width="0.2" textLength="15" lengthAdjust="spacingAndGlyphs">1B</text>
<text filter="url(#px)" x="589" y="583" font-family="Liberation Mono" font-weight="normal" font-size="18.22" fill="#00ffff" stroke="#00ffff" stroke-width="0.2" textLength="17" lengthAdjust="spacingAndGlyphs">1F</text>
<text filter="url(#px)" x="20" y="603" font-family="Liberation Mono" font-weight="bold" font-size="18.22" fill="#ff00ff" stroke="#ff00ff" stroke-width="0.2" textLength="35" lengthAdjust="spacingAndGlyphs">COM4</text>
<text filter="url(#px)" x="181" y="603" font-family="Liberation Mono" font-weight="bold" font-size="18.22" fill="#ff00ff" stroke="#ff00ff" stroke-width="0.2" textLength="35" lengthAdjust="spacingAndGlyphs">COM4</text>
<text filter="url(#px)" x="229" y="604" font-family="Liberation Mono" font-weight="normal" font-size="18.22" fill="#00ffff" stroke="#00ffff" stroke-width="0.2" textLength="19" lengthAdjust="spacingAndGlyphs">S4</text>
<text filter="url(#px)" x="271" y="604" font-family="Liberation Mono" font-weight="normal" font-size="18.22" fill="#00ffff" stroke="#00ffff" stroke-width="0.2" textLength="12" lengthAdjust="spacingAndGlyphs">W</text>
<text filter="url(#px)" x="364" y="604" font-family="Liberation Mono" font-weight="normal" font-size="18.22" fill="#00ffff" stroke="#00ffff" stroke-width="0.2" textLength="9" lengthAdjust="spacingAndGlyphs">N</text>
<text filter="url(#px)" x="402" y="604" font-family="Liberation Mono" font-weight="normal" font-size="18.22" fill="#00ffff" stroke="#00ffff" stroke-width="0.2" textLength="19" lengthAdjust="spacingAndGlyphs">3A</text>
<text filter="url(#px)" x="491" y="604" font-family="Liberation Mono" font-weight="normal" font-size="18.22" fill="#00ffff" stroke="#00ffff" stroke-width="0.2" textLength="21" lengthAdjust="spacingAndGlyphs">2A</text>
<text filter="url(#px)" x="547" y="604" font-family="Liberation Mono" font-weight="normal" font-size="18.22" fill="#00ffff" stroke="#00ffff" stroke-width="0.2" textLength="9" lengthAdjust="spacingAndGlyphs">H</text>
<text filter="url(#px)" x="589" y="604" font-family="Liberation Mono" font-weight="normal" font-size="18.22" fill="#00ffff" stroke="#00ffff" stroke-width="0.2" textLength="17" lengthAdjust="spacingAndGlyphs">1A</text>
<path d="M98,521 L133,543" fill="none" stroke="#00ffff" stroke-width="1.5" />
<path d="M135,521 L177,543" fill="none" stroke="#00ffff" stroke-width="1.5" />
<path d="M179,521 L218,543" fill="none" stroke="#00ffff" stroke-width="1.5" />
<path d="M60,545 L96,564" fill="none" stroke="#00ffff" stroke-width="1.5" />
<path d="M135,545 L177,564" fill="none" stroke="#00ffff" stroke-width="1.5" />
<path d="M179,545 L218,564" fill="none" stroke="#00ffff" stroke-width="1.5" />
<path d="M60,566 L96,586" fill="none" stroke="#00ffff" stroke-width="1.5" />
<path d="M98,566 L133,586" fill="none" stroke="#00ffff" stroke-width="1.5" />
<path d="M179,566 L218,586" fill="none" stroke="#00ffff" stroke-width="1.5" />
<path d="M60,588 L96,608" fill="none" stroke="#00ffff" stroke-width="1.5" />
<path d="M98,588 L133,608" fill="none" stroke="#00ffff" stroke-width="1.5" />
<path d="M135,588 L177,608" fill="none" stroke="#00ffff" stroke-width="1.5" />
</svg></body></html>
